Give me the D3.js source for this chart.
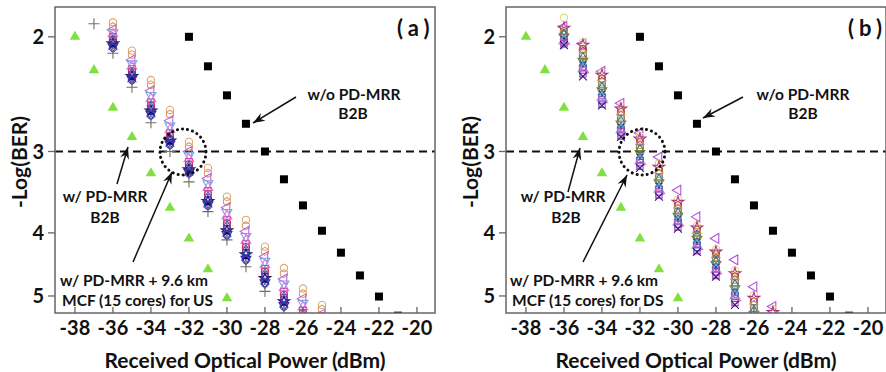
<!DOCTYPE html>
<meta charset="utf-8">

<head>
    <title>BER vs Received Optical Power</title>
    <meta charset='utf-8' name="viewport" content="width=device-width, initial-scale=1">

    <style>
        body {
            margin: 0;
            background: #fff;
        }

        text {
            font-family: Lato, "Open Sans", sans-serif;
            font-weight: bold;
            fill: #111;
        }

        .frame {
            fill: none;
            stroke: #666;
            stroke-width: 1.5;
        }
    </style>
</head>

<script src="https://d3js.org/d3.v7.min.js"></script>

<svg id="my_dataviz" width="886" height="372"></svg>

<script>
    // ---- data ----
    // w/o PD-MRR, B2B (black squares)
    const noMrrPower = [-32, -31, -30, -29, -28, -27, -26, -25, -24, -23, -22, -21]
    const noMrrBer = [2.0, 2.22, 2.46, 2.72, 3.0, 3.31, 3.63, 3.97, 4.29, 4.65, 5.01, 5.36]

    // w/ PD-MRR, B2B (green triangles)
    const mrrPower = [-38, -37, -36, -35, -34, -33, -32, -31, -30]
    const mrrBer = [2.0, 2.25, 2.57, 2.85, 3.24, 3.66, 4.08, 4.55, 5.04]

    // w/ PD-MRR + 9.6 km MCF, upstream, one row per core
    const usPower = [-37, -36, -35, -34, -33, -32, -31, -30, -29, -28, -27, -26, -25]
    const usBer = [
        [null, 1.90, 2.10, 2.33, 2.59, 2.90, 3.18, 3.52, 3.82, 4.20, 4.53, 4.87, 5.16],
        [null, 1.93, 2.13, 2.37, 2.63, 2.95, 3.24, 3.58, 3.90, 4.27, 4.62, 4.96, 5.24],
        [null, 1.95, 2.17, 2.42, 2.69, 3.00, 3.30, 3.66, 3.98, 4.35, 4.71, 5.05, 5.33],
        [null, 1.97, 2.20, 2.46, 2.74, 3.04, 3.36, 3.72, 4.05, 4.42, 4.79, 5.13, null],
        [null, 1.98, 2.22, 2.49, 2.78, 3.08, 3.41, 3.77, 4.11, 4.48, 4.86, 5.20, null],
        [null, 2.00, 2.24, 2.52, 2.81, 3.11, 3.45, 3.82, 4.16, 4.54, 4.92, 5.26, null],
        [null, 2.02, 2.26, 2.55, 2.84, 3.14, 3.49, 3.87, 4.21, 4.59, 4.98, 5.31, null],
        [null, 2.03, 2.28, 2.57, 2.87, 3.17, 3.53, 3.91, 4.26, 4.64, 5.03, 5.36, null],
        [null, 2.04, 2.29, 2.59, 2.88, 3.19, 3.56, 3.94, 4.29, 4.67, 5.07, null, null],
        [null, 2.05, 2.30, 2.60, 2.89, 3.20, 3.58, 3.97, 4.32, 4.70, 5.10, null, null],
        [null, 2.06, 2.31, 2.61, 2.90, 3.21, 3.59, 3.99, 4.35, 4.73, 5.13, null, null],
        [null, 2.06, 2.32, 2.62, 2.91, 3.22, 3.61, 4.00, 4.37, 4.75, 5.15, null, null],
        [null, 2.07, 2.32, 2.63, 2.92, 3.23, 3.62, 4.02, 4.39, 4.77, 5.17, null, null],
        [null, 2.08, 2.33, 2.64, 2.93, 3.24, 3.63, 4.03, 4.40, 4.78, 5.19, null, null],
        [1.91, 2.12, 2.39, 2.71, 3.00, 3.34, 3.71, 4.10, 4.51, 4.92, 5.32, null, null]
    ]

    // w/ PD-MRR + 9.6 km MCF, downstream, one row per core
    const dsPower = [-36, -35, -34, -33, -32, -31, -30, -29, -28, -27, -26, -25]
    const dsBer = [
        [1.93, 2.05, 2.26, 2.53, 2.81, 3.06, 3.44, 3.78, 4.08, 4.40, 4.84, 5.19],
        [1.87, 2.04, 2.27, 2.56, 2.84, 3.13, 3.55, 3.90, 4.24, 4.57, 4.98, 5.25],
        [1.94, 2.06, 2.29, 2.58, 2.87, 3.17, 3.59, 3.93, 4.28, 4.62, 5.04, 5.30],
        [1.96, 2.09, 2.32, 2.61, 2.90, 3.21, 3.63, 3.96, 4.32, 4.67, 5.10, null],
        [1.97, 2.12, 2.35, 2.64, 2.93, 3.25, 3.67, 3.99, 4.36, 4.72, 5.16, null],
        [1.98, 2.14, 2.38, 2.67, 2.96, 3.29, 3.71, 4.03, 4.40, 4.77, 5.22, null],
        [1.99, 2.16, 2.40, 2.70, 2.99, 3.32, 3.74, 4.06, 4.44, 4.82, 5.28, null],
        [2.00, 2.18, 2.42, 2.72, 3.02, 3.35, 3.77, 4.09, 4.47, 4.87, 5.33, null],
        [2.01, 2.20, 2.44, 2.74, 3.05, 3.38, 3.80, 4.12, 4.50, 4.92, null, null],
        [2.02, 2.22, 2.46, 2.76, 3.08, 3.41, 3.83, 4.15, 4.53, 4.96, null, null],
        [2.03, 2.24, 2.48, 2.78, 3.10, 3.43, 3.85, 4.18, 4.56, 5.00, null, null],
        [2.04, 2.25, 2.50, 2.80, 3.12, 3.46, 3.88, 4.21, 4.59, 5.04, null, null],
        [2.05, 2.27, 2.52, 2.82, 3.14, 3.48, 3.90, 4.24, 4.62, 5.08, null, null],
        [2.05, 2.28, 2.54, 2.84, 3.16, 3.50, 3.92, 4.26, 4.65, 5.12, null, null],
        [2.06, 2.30, 2.55, 2.85, 3.18, 3.52, 3.94, 4.28, 4.67, 5.16, null, null]
    ]

    const xTicks = [-38, -36, -34, -32, -30, -28, -26, -24, -22, -20]
    const yTicks = [2, 3, 4, 5]
    const fecLimit = 3

    // ---- marker styles for the cores ----
    const symbolHexagon = {
        draw: function(ctx, size) {
            const r = Math.sqrt(size / (1.5 * Math.sqrt(3)))
            for (let i = 0; i < 6; i++) {
                const a = Math.PI / 3 * i + Math.PI / 6
                if (i) ctx.lineTo(r * Math.cos(a), r * Math.sin(a))
                else ctx.moveTo(r * Math.cos(a), r * Math.sin(a))
            }
            ctx.closePath()
        }
    }

    const usStyles = [
        { type: d3.symbolCircle, rot: 0, color: "#d9a877" },
        { type: symbolHexagon, rot: 0, color: "#e0a060" },
        { type: d3.symbolTriangle, rot: -90, color: "#b866e0" },
        { type: d3.symbolTriangle, rot: 180, color: "#70a8e0" },
        { type: d3.symbolTriangle, rot: 0, color: "#e080e0" },
        { type: d3.symbolSquare, rot: 0, color: "#d040b0" },
        { type: d3.symbolCircle, rot: 0, color: "#d03040" },
        { type: d3.symbolDiamond, rot: 0, color: "#4060d0" },
        { type: d3.symbolSquare, rot: 0, color: "#7030a0" },
        { type: d3.symbolStar, rot: 0, color: "#202080" },
        { type: d3.symbolX, rot: 0, color: "#303090" },
        { type: d3.symbolAsterisk, rot: 0, color: "#101060" },
        { type: d3.symbolTriangle, rot: 180, color: "#5020a0" },
        { type: d3.symbolCircle, rot: 0, color: "#3040c0" },
        { type: d3.symbolPlus, rot: 0, color: "#707060" }
    ]

    const dsStyles = [
        { type: d3.symbolTriangle, rot: -90, color: "#b050e0" },
        { type: d3.symbolCircle, rot: 0, color: "#e8d870" },
        { type: d3.symbolStar, rot: 0, color: "#b03090" },
        { type: symbolHexagon, rot: 0, color: "#a06040" },
        { type: d3.symbolCircle, rot: 0, color: "#e09040" },
        { type: d3.symbolCircle, rot: 0, color: "#808080" },
        { type: d3.symbolDiamond, rot: 0, color: "#308080" },
        { type: d3.symbolTriangle, rot: 180, color: "#808030" },
        { type: d3.symbolAsterisk, rot: 0, color: "#203070" },
        { type: d3.symbolCircle, rot: 0, color: "#4070c0" },
        { type: d3.symbolTriangle, rot: 0, color: "#70b0e0" },
        { type: d3.symbolSquare, rot: 0, color: "#8040c0" },
        { type: d3.symbolTriangle, rot: 90, color: "#e070c0" },
        { type: d3.symbolSquare, rot: 0, color: "#c040c0" },
        { type: d3.symbolX, rot: 0, color: "#202080" }
    ]

    // ---- the svg ----
    const svg = d3.select("svg")
    const plotW = 380,
        plotTop = 7,
        plotBottom = 313

    // arrow head
    svg.append("defs")
        .append("marker")
        .attr("id", "arrow")
        .attr("viewBox", "-12 -6 13 12")
        .attr("refX", 0)
        .attr("refY", 0)
        .attr("markerWidth", 13)
        .attr("markerHeight", 12)
        .attr("markerUnits", "userSpaceOnUse")
        .attr("orient", "auto")
        .append("path")
        .attr("d", "M0,0 L-12,-4.5 L-8,0 L-12,4.5 Z")
        .attr("fill", "#111")

    function drawPanel(id, left, label, corePower, coreBer, styles, notes) {
        const x = d3.scaleLinear().domain([-39.05, -19.05]).range([left, left + plotW])
        const y = d3.scaleLog().domain([1.8, 5.31]).range([plotTop, plotBottom])

        const g = svg.append("g")

        g.append("clipPath")
            .attr("id", "clip" + id)
            .append("rect")
            .attr("x", left)
            .attr("y", plotTop)
            .attr("width", plotW)
            .attr("height", plotBottom - plotTop)

        const plot = g.append("g").attr("clip-path", "url(#clip" + id + ")")

        // FEC limit line
        plot.append("line")
            .attr("x1", left)
            .attr("x2", left + plotW)
            .attr("y1", y(fecLimit))
            .attr("y2", y(fecLimit))
            .attr("stroke", "#111")
            .attr("stroke-width", 2)
            .attr("stroke-dasharray", "8,5")

        // cores
        coreBer.forEach(function(row, i) {
            const st = styles[i]
            const pts = row.map(function(v, j) {
                return { p: corePower[j], v: v }
            }).filter(function(d) { return d.v != null })
            plot.append("g")
                .selectAll("path")
                .data(pts)
                .join("path")
                .attr("d", d3.symbol().type(st.type).size(st.type === d3.symbolSquare ? 40 : 42))
                .attr("transform", function(d) {
                    return "translate(" + x(d.p) + "," + y(d.v) + ") rotate(" + st.rot + ")"
                })
                .attr("fill", "none")
                .attr("stroke", st.color)
                .attr("stroke-width", 1.1)
        })

        // w/ PD-MRR B2B
        plot.append("g")
            .selectAll("path")
            .data(mrrPower)
            .join("path")
            .attr("d", d3.symbol().type(d3.symbolTriangle).size(48))
            .attr("transform", function(d, i) {
                return "translate(" + x(d) + "," + y(mrrBer[i]) + ")"
            })
            .attr("fill", "#80e040")

        // w/o PD-MRR B2B
        plot.append("g")
            .selectAll("path")
            .data(noMrrPower)
            .join("path")
            .attr("d", d3.symbol().type(d3.symbolSquare).size(64))
            .attr("transform", function(d, i) {
                return "translate(" + x(d) + "," + y(noMrrBer[i]) + ")"
            })
            .attr("fill", "#000")

        // frame
        g.append("rect")
            .attr("class", "frame")
            .attr("x", left)
            .attr("y", plotTop)
            .attr("width", plotW)
            .attr("height", plotBottom - plotTop)

        // x ticks (inside)
        g.selectAll(".xt")
            .data(xTicks)
            .join("line")
            .attr("x1", function(d) { return x(d) })
            .attr("x2", function(d) { return x(d) })
            .attr("y1", plotBottom)
            .attr("y2", plotBottom - 6)
            .attr("stroke", "#666")
            .attr("stroke-width", 1.3)

        g.selectAll(".xl")
            .data(xTicks)
            .join("text")
            .attr("x", function(d) { return x(d) })
            .attr("y", 335)
            .attr("text-anchor", "middle")
            .style("font-size", "20px")
            .text(function(d) { return d })

        // y ticks (outside)
        g.selectAll(".yt")
            .data(yTicks)
            .join("line")
            .attr("x1", left - 7)
            .attr("x2", left)
            .attr("y1", function(d) { return y(d) })
            .attr("y2", function(d) { return y(d) })
            .attr("stroke", "#666")
            .attr("stroke-width", 1.3)

        g.selectAll(".yl")
            .data(yTicks)
            .join("text")
            .attr("x", left - 11)
            .attr("y", function(d) { return y(d) })
            .attr("dy", "0.36em")
            .attr("text-anchor", "end")
            .style("font-size", "20px")
            .text(function(d) { return d })

        // axis titles
        g.append("text")
            .attr("x", left + plotW / 2)
            .attr("y", 368)
            .attr("text-anchor", "middle")
            .style("font-size", "21px")
            .text("Received Optical Power (dBm)")

        g.append("text")
            .attr("transform", "translate(" + (left - 28) + ",162) rotate(-90)")
            .attr("text-anchor", "middle")
            .style("font-size", "21px")
            .text("-Log(BER)")

        // panel label
        g.append("text")
            .attr("x", left + plotW - 38)
            .attr("y", 36)
            .style("font-size", "22px")
            .style("letter-spacing", "5px")
            .text(label)

        // annotations
        const ann = g.append("g").style("font-size", "15.5px")
        notes.texts.forEach(function(t) {
            ann.append("text")
                .attr("x", left + t[0])
                .attr("y", t[1])
                .attr("text-anchor", t[3])
                .text(t[2])
        })
        notes.arrows.forEach(function(a) {
            ann.append("line")
                .attr("x1", left + a[0])
                .attr("y1", a[1])
                .attr("x2", left + a[2])
                .attr("y2", a[3])
                .attr("stroke", "#111")
                .attr("stroke-width", 1.5)
                .attr("marker-end", "url(#arrow)")
        })
        ann.append("circle")
            .attr("cx", left + notes.ring[0])
            .attr("cy", notes.ring[1])
            .attr("r", 23)
            .attr("fill", "none")
            .attr("stroke", "#111")
            .attr("stroke-width", 3)
            .attr("stroke-linecap", "round")
            .attr("stroke-dasharray", "0.1,5")
    }

    drawPanel("a", 55, "(a)", usPower, usBer, usStyles, {
        texts: [
            [299, 100, "w/o PD-MRR", "middle"],
            [298, 119, "B2B", "middle"],
            [50, 202, "w/ PD-MRR", "middle"],
            [50, 223, "B2B", "middle"],
            [5, 286, "w/ PD-MRR + 9.6 km", "start"],
            [7, 306, "MCF (15 cores) for US", "start"]
        ],
        arrows: [
            [241, 97, 198, 123],
            [62, 184, 73, 147],
            [78, 262, 117, 172]
        ],
        ring: [128, 152]
    })

    drawPanel("b", 506, "(b)", dsPower, dsBer, dsStyles, {
        texts: [
            [297, 100, "w/o PD-MRR", "middle"],
            [297, 119, "B2B", "middle"],
            [57, 202, "w/ PD-MRR", "middle"],
            [60, 223, "B2B", "middle"],
            [4, 286, "w/ PD-MRR + 9.6 km", "start"],
            [6, 306, "MCF (15 cores) for DS", "start"]
        ],
        arrows: [
            [237, 97, 197, 118],
            [62, 192, 74, 148],
            [77, 262, 121, 175]
        ],
        ring: [136, 152]
    })
</script>
